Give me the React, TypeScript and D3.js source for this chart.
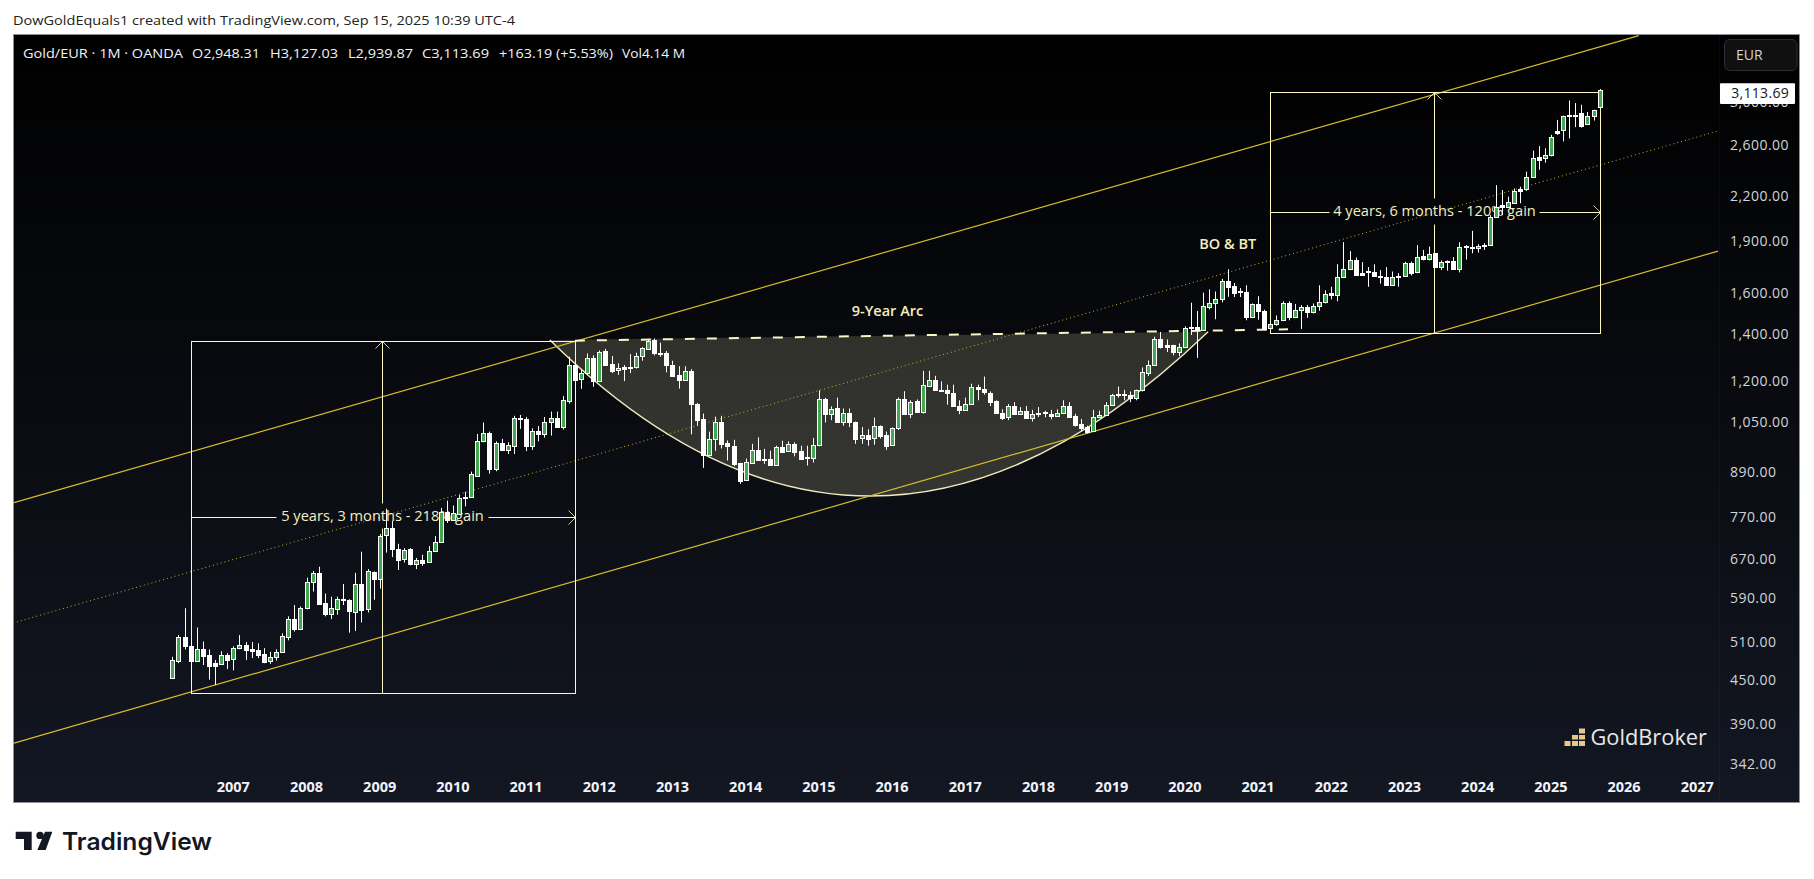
import React from "react";
import * as d3 from "d3";

// Monthly Gold/EUR candles, [open, high, low, close], first candle is March 2006.
const y2006 = [[454,486,452,481],[480,522,476,518],[518,570,498,503],[504,516,446,480],[480,535,479,499],[499,511,473,488],[489,498,451,471],[476,481,443,471],[475,495,474,489],[489,492,467,481]];
const y2007 = [[482,503,465,500],[500,522,498,505],[506,510,481,497],[498,510,484,496],[497,508,484,489],[490,500,476,478],[479,494,475,486],[485,498,480,494],[494,525,493,520],[519,555,513,550],[550,576,528,533],[533,573,531,570]];
const y2008 = [[570,630,568,622],[622,644,602,640],[640,653,577,578],[580,598,555,560],[560,592,550,571],[569,592,558,587],[588,617,576,587],[585,587,526,565],[563,640,529,617],[617,686,544,566],[568,648,562,644],[642,643,586,628]];
const y2009 = [[628,727,608,723],[724,790,684,741],[741,759,674,692],[693,704,646,668],[669,694,662,690],[693,694,656,658],[659,672,648,668],[668,679,655,662],[663,699,662,688],[688,722,686,708],[708,792,706,781],[781,811,754,760]];
const y2010 = [[760,798,759,778],[776,826,775,817],[822,835,796,817],[822,892,820,886],[880,1009,878,987],[985,1048,982,1012],[1012,1017,886,901],[901,985,893,979],[979,993,954,957],[958,982,945,973],[970,1071,945,1064],[1064,1074,1026,1059]];
const y2011 = [[1061,1067,954,969],[969,1028,958,1019],[1019,1036,985,1008],[1009,1067,997,1051],[1051,1086,1004,1064],[1064,1086,1030,1033],[1033,1143,1024,1127],[1124,1300,1115,1265],[1265,1277,1204,1206],[1210,1245,1170,1232],[1232,1314,1225,1293],[1293,1306,1178,1200]];
const y2012 = [[1201,1327,1199,1321],[1323,1334,1262,1265],[1269,1303,1232,1241],[1243,1272,1225,1251],[1257,1265,1200,1249],[1257,1311,1232,1253],[1255,1317,1251,1302],[1301,1341,1283,1337],[1334,1377,1329,1370],[1373,1380,1306,1316],[1318,1361,1300,1311],[1316,1324,1235,1265]];
const y2013 = [[1267,1283,1218,1220],[1223,1260,1171,1203],[1206,1260,1201,1239],[1241,1248,1008,1114],[1115,1117,1037,1058],[1060,1079,903,942],[942,1017,940,993],[993,1068,955,1050],[1051,1071,962,976],[980,988,925,969],[971,990,908,916],[917,918,857,866]];
const y2014 = [[868,931,866,920],[919,977,917,957],[958,998,927,928],[931,961,915,928],[930,955,910,912],[913,971,910,967],[968,987,951,952],[953,985,952,976],[976,982,938,952],[954,971,927,930],[935,971,910,933],[933,996,919,973]];
const y2015 = [[972,1164,969,1133],[1133,1136,1048,1079],[1079,1105,1056,1097],[1098,1137,1049,1050],[1051,1097,1037,1080],[1081,1097,1032,1048],[1049,1051,977,994],[995,1032,977,1006],[1006,1025,971,994],[995,1065,974,1036],[1037,1038,994,1003],[1005,1017,958,971]];
const y2016 = [[972,1031,971,1029],[1028,1137,1022,1133],[1133,1161,1078,1079],[1079,1127,1063,1122],[1123,1130,1081,1085],[1086,1241,1079,1183],[1182,1241,1180,1203],[1205,1221,1163,1164],[1167,1199,1161,1164],[1164,1186,1111,1154],[1156,1186,1105,1106],[1106,1127,1077,1091]];
const y2017 = [[1092,1137,1091,1115],[1115,1190,1113,1176],[1176,1186,1127,1169],[1170,1218,1148,1157],[1156,1160,1106,1122],[1123,1127,1080,1081],[1082,1094,1056,1065],[1067,1113,1056,1106],[1106,1120,1075,1079],[1079,1102,1077,1088],[1088,1106,1060,1064],[1064,1092,1051,1079]];
const y2018 = [[1082,1102,1067,1079],[1083,1089,1066,1080],[1079,1092,1059,1072],[1072,1094,1068,1081],[1081,1127,1079,1105],[1106,1120,1066,1067],[1071,1078,1034,1040],[1041,1060,1019,1029],[1032,1037,1011,1017],[1019,1092,1017,1067],[1067,1089,1065,1075],[1074,1120,1073,1111]];
const y2019 = [[1110,1151,1109,1146],[1150,1179,1137,1146],[1150,1166,1127,1146],[1145,1160,1120,1135],[1135,1167,1127,1165],[1164,1255,1160,1236],[1234,1284,1220,1267],[1267,1388,1265,1376],[1377,1410,1335,1341],[1350,1376,1320,1343],[1349,1352,1306,1319],[1320,1358,1302,1344]];
const y2020 = [[1343,1436,1341,1428],[1433,1552,1396,1427],[1433,1510,1295,1417],[1419,1604,1416,1533],[1532,1621,1518,1548],[1548,1610,1470,1573],[1573,1678,1554,1667],[1667,1732,1582,1635],[1638,1656,1581,1600],[1610,1628,1581,1607],[1607,1643,1465,1480],[1480,1548,1476,1543]];
const y2021 = [[1543,1585,1468,1512],[1512,1517,1419,1422],[1428,1458,1423,1446],[1446,1488,1439,1464],[1464,1559,1462,1548],[1548,1559,1465,1480],[1480,1545,1477,1517],[1517,1540,1424,1528],[1528,1540,1477,1506],[1506,1548,1498,1533],[1533,1643,1512,1553],[1553,1616,1548,1597]];
const y2022 = [[1601,1635,1569,1589],[1589,1761,1559,1691],[1691,1893,1686,1732],[1732,1838,1727,1788],[1788,1800,1698,1700],[1712,1773,1698,1702],[1721,1744,1635,1716],[1719,1760,1691,1695],[1693,1727,1652,1686],[1686,1744,1641,1642],[1642,1719,1641,1686],[1693,1710,1635,1686]];
const y2023 = [[1695,1775,1691,1766],[1770,1775,1697,1709],[1714,1875,1709,1802],[1806,1845,1783,1790],[1792,1865,1783,1823],[1825,1827,1742,1746],[1746,1783,1727,1773],[1777,1783,1724,1773],[1777,1802,1730,1734],[1734,1892,1714,1865],[1869,1875,1788,1863],[1865,1964,1825,1861]];
const y2024 = [[1855,1880,1829,1871],[1875,1886,1845,1869],[1877,2068,1875,2053],[2053,2282,2050,2127],[2139,2245,2068,2127],[2127,2197,2120,2157],[2150,2257,2145,2240],[2250,2270,2150,2240],[2250,2385,2240,2346],[2346,2555,2344,2497],[2500,2593,2400,2480],[2491,2574,2456,2517]];
const y2025 = [[2515,2690,2507,2675],[2725,2826,2690,2705],[2731,2865,2633,2859],[2871,3011,2660,2859],[2871,2986,2760,2859],[2887,2970,2755,2770],[2790,2900,2780,2859],[2859,2922,2820,2916],[2948.31,3127.03,2939.87,3113.69]];

const candles = [...y2006,...y2007,...y2008,...y2009,...y2010,...y2011,...y2012,...y2013,...y2014,...y2015,...y2016,...y2017,...y2018,...y2019,...y2020,...y2021,...y2022,...y2023,...y2024,...y2025];

const priceTicks = [3000,2600,2200,1900,1600,1400,1200,1050,890,770,670,590,510,450,390,342];
const yearTicks = d3.range(2007, 2028);
const lastPrice = 3113.69;
const legendParts = [
  ["Gold/EUR · 1M · OANDA", 23, 160],
  ["O2,948.31", 192, 68],
  ["H3,127.03", 270, 68],
  ["L2,939.87", 348, 65],
  ["C3,113.69", 422, 67],
  ["+163.19 (+5.53%)", 499, 114],
  ["Vol4.14 M", 622, 63],
];

// Drawing tools, anchored as [month index from March 2006, price].
const channelUpper = [[-26.1, 805], [240.4, 3725]];
const channelMiddle = [[-26.1, 543], [253.4, 2725]];
const channelLower = [[-26.1, 366], [253.4, 1838]];
const arcStart = [61.9, 1373];
const arcControl = [114.5, 487];
const arcEnd = [169.8, 1411];
const neckline = [[66, 1370], [182.9, 1422]];
const rangeBoxes = [
  { t0: 3, t1: 66, low: 431, high: 1367, mid: 768, label: "5 years, 3 months - 218% gain", tx: 382.3, gap: 106, vGap: [-14, 11] },
  { t0: 180, t1: 234, low: 1404, high: 3100, mid: 2087, label: "4 years, 6 months - 120% gain", tx: 1434.3, gap: 105, vGap: [-14, 12] },
];

const CREAM = "#fff9c4";
const GOLD = "#d6bd2c";
const PANE = { l: 13, t: 34, r: 1800, b: 803, axis: 1719 };
const SANS = "'Open Sans', 'Noto Sans', sans-serif";

const x = d3.scaleLinear().domain([0, 234]).range([172.3, 172.3 + 6.1 * 234]);
const y = d3.scaleLog().domain([2600, 450]).range([145.3, 680.3]);
const fmt = d3.format(",.2f");

function Straight({ pts, ...rest }: any) {
  return <line x1={x(pts[0][0])} y1={y(pts[0][1])} x2={x(pts[1][0])} y2={y(pts[1][1])} {...rest} />;
}

export default function App() {
  const arc = d3.path();
  arc.moveTo(x(arcStart[0]), y(arcStart[1]));
  arc.quadraticCurveTo(x(arcControl[0]), y(arcControl[1]), x(arcEnd[0]), y(arcEnd[1]));
  const arcD = arc.toString();

  return (
    <svg width={1814} height={879} style={{ position: "absolute", left: 0, top: 0, display: "block", background: "#fff" }}>
      <defs>
        <linearGradient id="bg" x1="0" y1="0" x2="0" y2="1">
          <stop offset="0" stopColor="#000000" />
          <stop offset="1" stopColor="#131722" />
        </linearGradient>
        <clipPath id="pane"><rect x={PANE.l} y={PANE.t} width={PANE.axis - PANE.l} height={PANE.b - PANE.t} /></clipPath>
      </defs>

      <text x={13} y={24.5} fontFamily={SANS} fontSize={13} fill="#222" textLength={502} lengthAdjust="spacingAndGlyphs">
        DowGoldEquals1 created with TradingView.com, Sep 15, 2025 10:39 UTC-4
      </text>

      <rect x={PANE.l + 0.5} y={PANE.t + 0.5} width={PANE.r - PANE.l - 1} height={PANE.b - PANE.t - 1} fill="url(#bg)" stroke="#8d9099" strokeWidth={1} />
      <line x1={PANE.axis + 0.5} x2={PANE.axis + 0.5} y1={PANE.t + 1} y2={PANE.b - 1} stroke="#fff" strokeOpacity={0.035} />

      <g clipPath="url(#pane)">
        <path d={arcD + "Z"} fill="#fff9c4" fillOpacity={0.17} />
        <path d={arcD} fill="none" stroke="#efe9bd" strokeWidth={1.4} />
        <Straight pts={channelUpper} stroke={GOLD} strokeWidth={1.2} />
        <Straight pts={channelLower} stroke={GOLD} strokeWidth={1.2} />
        <Straight pts={channelMiddle} stroke="#c9b22a" strokeWidth={1} strokeDasharray="1 3" />
        <Straight pts={neckline} stroke="#fbf5c8" strokeWidth={2} strokeDasharray="10 12" />

        {rangeBoxes.map((b) => {
          const l = Math.round(x(b.t0)) + 0.5, r = Math.round(x(b.t1)) + 0.5;
          const t = Math.round(y(b.high)) + 0.5, bt = Math.round(y(b.low)) + 0.5;
          const my = Math.round(y(b.mid)) + 0.5, mx = Math.round(b.tx) + 0.5;
          return (
            <g key={b.label}>
              <rect x={l} y={t} width={r - l} height={bt - t} fill="none" stroke={CREAM} strokeWidth={1} />
              <line x1={mx} x2={mx} y1={t} y2={my + b.vGap[0]} stroke={CREAM} />
              <line x1={mx} x2={mx} y1={my + b.vGap[1]} y2={bt} stroke={CREAM} />
              <path d={`M${mx - 7},${t + 7}L${mx},${t}L${mx + 7},${t + 7}`} fill="none" stroke={CREAM} strokeOpacity={0.8} />
              <line x1={l} x2={mx - b.gap} y1={my} y2={my} stroke={CREAM} />
              <line x1={mx + b.gap} x2={r} y1={my} y2={my} stroke={CREAM} />
              <path d={`M${r - 7},${my - 7}L${r},${my}L${r - 7},${my + 7}`} fill="none" stroke={CREAM} strokeOpacity={0.8} />
              <text x={mx} y={my - 1} dy=".3em" textAnchor="middle" fontFamily={SANS} fontSize={14.6} fill="#f5efc0">{b.label}</text>
            </g>
          );
        })}

        <text x={887.5} y={311} dy=".35em" textAnchor="middle" fontFamily={SANS} fontSize={14.5} fontWeight={600} fill="#f5efc0">9-Year Arc</text>
        <text x={1227.7} y={244.3} dy=".35em" textAnchor="middle" fontFamily={SANS} fontSize={14.5} fontWeight={600} fill="#f5efc0">BO &amp; BT</text>

        {candles.map(([o, h, l, c], i) => {
          const cx = Math.round(x(i)) + 0.5;
          const top = Math.round(y(Math.max(o, c))) + 0.5;
          const bot = Math.round(y(Math.min(o, c))) + 0.5;
          const up = c > o;
          return (
            <g key={i}>
              <line x1={cx} x2={cx} y1={y(h)} y2={y(l)} stroke="#fff" strokeWidth={1} />
              <rect x={cx - 2} y={top} width={4} height={Math.max(bot - top, 1)} fill={up ? "#43a84f" : "#ffffff"} stroke="#fff" strokeWidth={1} />
            </g>
          );
        })}
      </g>

      {legendParts.map(([t, lx, w]: any) => (
        <text key={t} x={lx} y={53} dy=".35em" fontFamily={SANS} fontSize={13} fill="#f0f3fa" textLength={w} lengthAdjust="spacingAndGlyphs">{t}</text>
      ))}

      {priceTicks.map((p) => (
        <text key={p} x={1730} y={y(p)} dy=".36em" fontFamily={SANS} fontSize={14} letterSpacing={0.45} fill="#d1d4dc">{fmt(p)}</text>
      ))}
      <rect x={1720} y={y(lastPrice) - 7} width={75} height={20.6} rx={1} fill="#fff" />
      <text x={1789} y={y(lastPrice) + 3} dy=".36em" textAnchor="end" fontFamily={SANS} fontSize={14} letterSpacing={0.3} fill="#131722">{fmt(lastPrice)}</text>

      <rect x={1724.5} y={39.5} width={72.5} height={31} rx={5} fill="#101010" stroke="#2a2e39" />
      <text x={1736} y={55} dy=".35em" fontFamily={SANS} fontSize={14} fill="#d1d4dc">EUR</text>

      {yearTicks.map((yr, k) => (
        <text key={yr} x={x(10 + 12 * k)} y={786.7} dy=".35em" textAnchor="middle" fontFamily={SANS} fontSize={14.5} fontWeight={700} fill="#f0f3fa">{yr}</text>
      ))}

      <g fill="#e9c98a">
        <rect x={1564.5} y={741} width={6} height={5} />
        <rect x={1572} y={735} width={6} height={4.5} /><rect x={1572} y={741} width={6} height={5} />
        <rect x={1579} y={728.5} width={6} height={5} /><rect x={1579} y={735} width={6} height={4.5} /><rect x={1579} y={741} width={6} height={5} />
      </g>
      <text x={1590.5} y={737} dy=".35em" fontFamily={SANS} fontSize={21.5} fill="#e8e8e8" textLength={116.5} lengthAdjust="spacingAndGlyphs">GoldBroker</text>

      <g fill="#131722">
        <path d="M15.7,831.7H31.7V850H24V839H15.7Z" />
        <circle cx={40} cy={835.4} r={3.7} />
        <path d="M45,831.7H52.3L45.7,850H37.3Z" />
      </g>
      <text x={62} y={841.7} dy=".35em" fontFamily="Inter, sans-serif" fontSize={24} fontWeight={600} fill="#131722" textLength={150} lengthAdjust="spacingAndGlyphs">TradingView</text>
    </svg>
  );
}
